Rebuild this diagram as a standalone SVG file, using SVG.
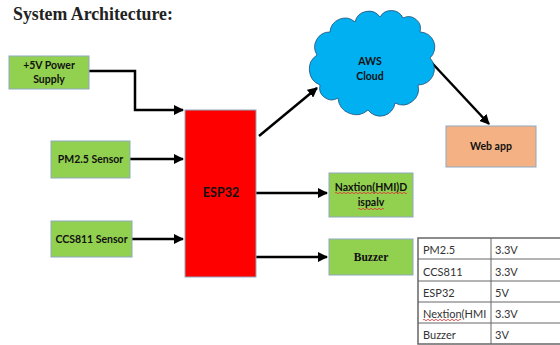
<svg xmlns="http://www.w3.org/2000/svg" width="560" height="345" viewBox="0 0 560 345">
<defs>
<marker id="ah" viewBox="0 0 10 10" refX="9" refY="5" markerWidth="4" markerHeight="4" orient="auto" markerUnits="strokeWidth">
<path d="M0,0 L10,5 L0,10 z" fill="#000"/>
</marker>
<style>
.g{fill:#92D050;stroke:#8EA9C1;stroke-width:1}
.lbl{font-family:Lato,"Liberation Sans",sans-serif;font-weight:bold;font-size:10.5px;fill:#111;text-anchor:middle}
.c{fill:none;stroke:#000;stroke-width:2.5;marker-end:url(#ah)}
.t{font-family:Lato,"Liberation Sans",sans-serif;font-size:11px;fill:#333}
.tl{stroke:#666;stroke-width:1}
.sq{fill:none;stroke:#E03030;stroke-width:0.8}
</style>
</defs>
<rect width="560" height="345" fill="#fff"/>
<text x="13" y="20" font-family="'Liberation Serif',serif" font-weight="bold" font-size="17.8" fill="#222">System Architecture:</text>

<g id="connectors">
<path class="c" d="M89,71 H135 V110 H183"/>
<path class="c" d="M130,159 H183"/>
<path class="c" d="M132,239 H183"/>
<path class="c" d="M259,136 L317,88"/>
<path class="c" d="M432,63 L489,124"/>
<path class="c" d="M256,193 H327"/>
<path class="c" d="M256,257 H327"/>
</g>

<g id="power">
<rect class="g" x="9" y="56" width="80" height="33"/>
<text class="lbl" x="49" y="69">+5V Power</text>
<text class="lbl" x="49" y="83">Supply</text>
</g>
<g id="pm25">
<rect class="g" x="51" y="141" width="79" height="37"/>
<text class="lbl" x="90.5" y="163">PM2.5 Sensor</text>
</g>
<g id="ccs811">
<rect class="g" x="51" y="221" width="81" height="36"/>
<text class="lbl" x="91.5" y="243">CCS811 Sensor</text>
</g>
<g id="esp32">
<rect x="185" y="110" width="71" height="167" fill="#FF0000" stroke="#8EA9C1" stroke-width="1"/>
<text class="lbl" x="221" y="197" style="font-size:12.5px">ESP32</text>
</g>
<g id="cloud">
<path d="M320,85 A17,17 0 0 1 317,55 A15,15 0 0 1 330,32 A15,15 0 0 1 355,22 A14,14 0 0 1 380,17 A13,13 0 0 1 403,18 A12,12 0 0 1 420,32 A15,15 0 0 1 430,58 A16,16 0 0 1 418,85 A16,16 0 0 1 395,103 A15,15 0 0 1 368,110 A18,18 0 0 1 338,98 A12,12 0 0 1 320,85 Z" fill="#00B0F0" stroke="#1F4E79" stroke-width="0.8"/>
<text class="lbl" x="370" y="65">AWS</text>
<text class="lbl" x="370" y="80">Cloud</text>
</g>
<g id="webapp">
<rect x="446" y="126" width="90" height="41" fill="#F4B183" stroke="#8EA9C1" stroke-width="1"/>
<text class="lbl" x="491" y="150">Web app</text>
</g>
<g id="display">
<rect class="g" x="329" y="173" width="84" height="44"/>
<text class="lbl" x="371" y="191">Naxtion(HMI)D</text>
<text class="lbl" x="371" y="206">ispalv</text>
<path class="sq" d="M335,193 q1,-1.5 2,0 t2,0 t2,0 t2,0 t2,0 t2,0 t2,0 t2,0 t2,0 t2,0 t2,0 t2,0 t2,0 t2,0 t2,0 t2,0 t2,0 t2,0 t2,0 t2,0 t2,0 t2,0 t2,0 t2,0 t2,0 t2,0 t2,0 t2,0 t2,0 t2,0 t2,0 t2,0 t2,0 t2,0 t2,0 t2,0"/>
<path class="sq" d="M358,209 q1,-1.5 2,0 t2,0 t2,0 t2,0 t2,0 t2,0 t2,0 t2,0 t2,0 t2,0 t2,0 t2,0 t2,0"/>
</g>
<g id="buzzer">
<rect class="g" x="329" y="239" width="84" height="36"/>
<text x="371" y="261" font-family="'Liberation Serif',serif" font-weight="bold" font-size="11.5" fill="#111" text-anchor="middle">Buzzer</text>
</g>
<g id="table">
<rect x="418" y="238" width="150" height="106" fill="#fff" stroke="#666" stroke-width="1.5"/>
<line class="tl" x1="491" y1="238" x2="491" y2="344"/>
<line class="tl" x1="418" y1="259" x2="560" y2="259"/>
<line class="tl" x1="418" y1="281" x2="560" y2="281"/>
<line class="tl" x1="418" y1="302" x2="560" y2="302"/>
<line class="tl" x1="418" y1="323" x2="560" y2="323"/>
<text class="t" x="423" y="254">PM2.5</text><text class="t" x="495" y="254">3.3V</text>
<text class="t" x="423" y="276">CCS811</text><text class="t" x="495" y="276">3.3V</text>
<text class="t" x="423" y="297">ESP32</text><text class="t" x="495" y="297">5V</text>
<text class="t" x="423" y="318">Nextion(HMI</text><text class="t" x="495" y="318">3.3V</text>
<text class="t" x="423" y="339">Buzzer</text><text class="t" x="495" y="339">3V</text>
<path class="sq" d="M423,320 q1,-1.5 2,0 t2,0 t2,0 t2,0 t2,0 t2,0 t2,0 t2,0 t2,0 t2,0 t2,0 t2,0 t2,0 t2,0 t2,0 t2,0 t2,0 t2,0 t2,0"/>
</g>
</svg>
